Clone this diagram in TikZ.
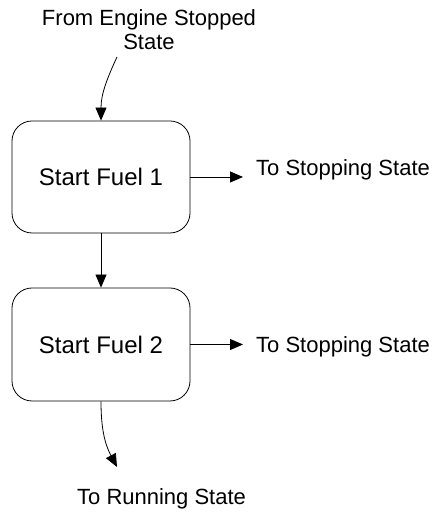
\documentclass[tikz,border=0pt]{standalone}
\usepackage{fontspec}
\setmainfont{Liberation Sans}
\usetikzlibrary{arrows.meta}
\begin{document}
\begin{tikzpicture}[x=1bp,y=1bp,
  statebox/.style={draw, line width=0.8bp, rounded corners=20bp, minimum width=178bp, inner sep=0pt,
    font=\fontsize{24bp}{26bp}\selectfont},
  lbl/.style={inner sep=0pt, font=\fontsize{22bp}{24bp}\selectfont},
  conn/.style={line width=0.8bp, -{Triangle[length=13bp,width=11bp]}}]
\useasboundingbox (0,0) rectangle (435,514);
\node[lbl, align=center, anchor=south] (from) at (149,464) {From Engine Stopped\\State};
\node[statebox, minimum height=112bp] (b1) at (101,337) {Start Fuel 1};
\node[statebox, minimum height=113bp] (b2) at (101,169.5) {Start Fuel 2};
\node[lbl, anchor=base west] (stop1) at (256,338) {To Stopping State};
\node[lbl, anchor=base west] (stop2) at (256,161) {To Stopping State};
\node[lbl, anchor=base west] (run) at (77,9) {To Running State};
\coordinate (fromS) at (117,457);
\coordinate (e1) at (243,337);
\coordinate (e2) at (243,169.5);
\coordinate (runE) at (117,47);
\draw[conn] (fromS) to[out=-115,in=90] (b1.north);
\draw[conn] (b1.east) -- (e1);
\draw[conn] (b1.south) -- (b2.north);
\draw[conn] (b2.east) -- (e2);
\draw[conn] (b2.south) to[out=-90,in=118] (runE);
\end{tikzpicture}
\end{document}
